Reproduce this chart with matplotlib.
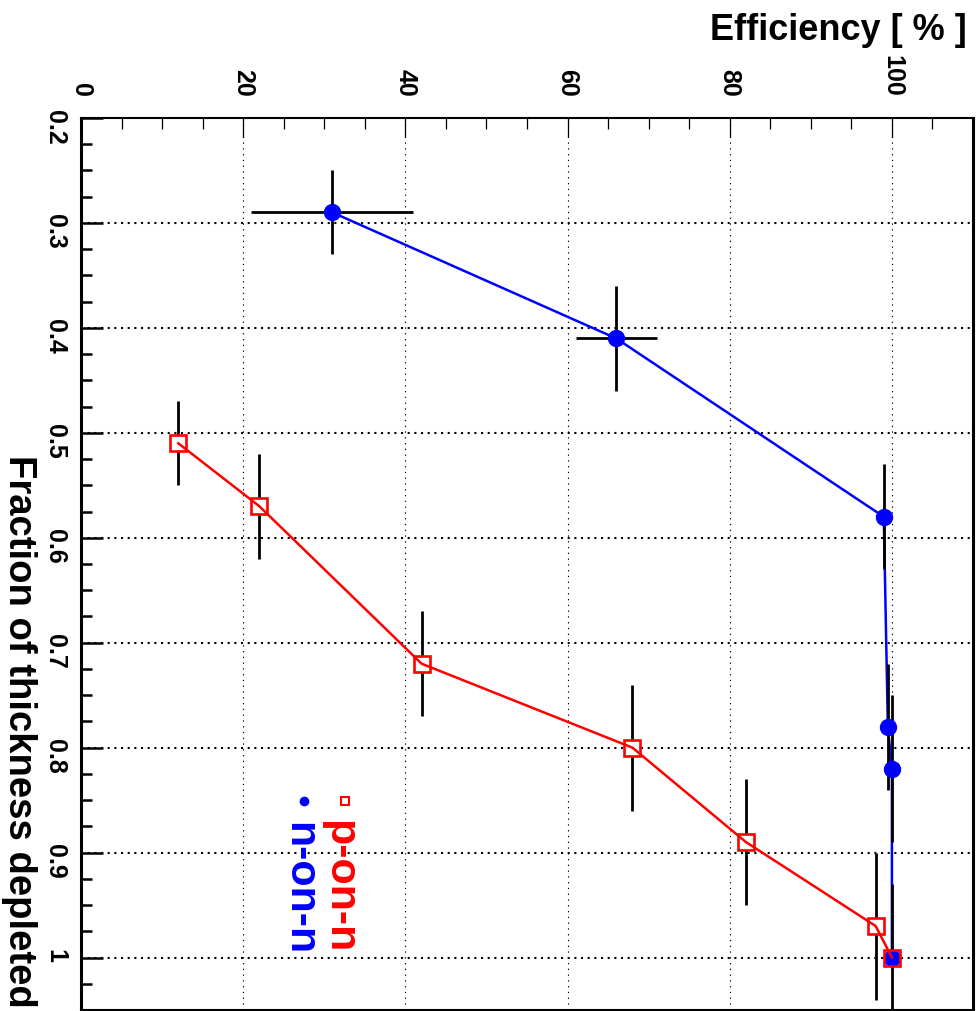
import numpy as np
import matplotlib
matplotlib.use("Agg")
import matplotlib.pyplot as plt
from matplotlib.ticker import MultipleLocator, FuncFormatter

plt.rcParams['font.family'] = ['Liberation Sans', 'DejaVu Sans']
plt.rcParams['font.weight'] = 'bold'

# n-on-n (blue, filled circles)
nn_frac = [0.29, 0.41, 0.58, 0.78, 0.82, 1.00]
nn_eff = [31, 66, 99, 99.5, 100, 100]
nn_frac_err = [0.04, 0.05, 0.05, 0.06, 0.07, 0.07]
nn_eff_err = [10, 5, 0, 0, 0, 0]

# p-on-n (red, open squares)
pn_frac = [0.51, 0.57, 0.72, 0.80, 0.89, 0.97, 1.00]
pn_eff = [12, 22, 42, 68, 82, 98, 100]
pn_frac_err = [0.04, 0.05, 0.05, 0.06, 0.06, 0.07, 0.0]

fig = plt.figure(figsize=(9.79, 10.12), dpi=100)
W, H = 979, 1012
ax = fig.add_axes([81 / W, (H - 1011) / H, 892 / W, 892 / H])

ax.set_xlim(0, 110)
ax.set_ylim(1.05, 0.2)

# grid
for v in [20, 40, 60, 80, 100]:
    ax.axvline(v, color='black', lw=0.8, linestyle=(0, (1.2, 4)), zorder=1)
for v in [0.3, 0.4, 0.5, 0.6, 0.7, 0.8, 0.9, 1.0]:
    ax.axhline(v, color='black', lw=1.5, linestyle=(0, (1, 2.2)), zorder=1)

# curves
ax.plot(nn_eff, nn_frac, '-', color='blue', lw=1.8, zorder=2)
ax.errorbar(nn_eff, nn_frac, xerr=nn_eff_err, yerr=nn_frac_err, fmt='none',
            ecolor='black', elinewidth=2, capsize=0, zorder=3)
ax.errorbar(pn_eff, pn_frac, yerr=pn_frac_err, fmt='none',
            ecolor='black', elinewidth=2, capsize=0, zorder=3)
ax.plot(pn_eff, pn_frac, 's', ms=11.5, mfc='white', mec='none', zorder=3.5)
ax.plot(nn_eff, nn_frac, 'o', ms=11.5, color='blue', zorder=3.8)
ax.plot(pn_eff, pn_frac, '-', color='red', lw=1.8, zorder=4)
ax.plot(pn_eff, pn_frac, 's', ms=11.5, mfc='none', mec='red', mew=1.9, zorder=5)

# axes / ticks
ax.xaxis.set_ticks_position('top')
ax.yaxis.set_ticks_position('left')
ax.xaxis.set_major_locator(MultipleLocator(20))
ax.xaxis.set_minor_locator(MultipleLocator(5))
ax.yaxis.set_major_locator(MultipleLocator(0.1))
ax.yaxis.set_minor_locator(MultipleLocator(0.025))
ax.xaxis.set_major_formatter(FuncFormatter(lambda v, p: f"{v:g}"))
ax.yaxis.set_major_formatter(FuncFormatter(lambda v, p: f"{round(v, 2):g}"))
ax.tick_params(axis='x', which='major', direction='in', length=14, width=0.9,
               labelsize=18, pad=16, labelrotation=270)
ax.tick_params(axis='x', which='minor', direction='in', length=8, width=0.9)
ax.tick_params(axis='y', which='major', direction='in', length=16, width=1.8,
               labelsize=18, pad=10, labelrotation=270)
ax.tick_params(axis='y', which='minor', direction='in', length=8, width=1.8)
for lab in ax.get_xticklabels() + ax.get_yticklabels():
    lab.set_fontweight('bold')

ax.spines['left'].set_linewidth(2.2)
ax.spines['right'].set_linewidth(2.2)
ax.spines['top'].set_linewidth(1.5)
ax.spines['bottom'].set_linewidth(1.5)

# titles
fig.text(967 / W, 1 - 40 / H, 'Efficiency [ % ]', ha='right', va='baseline',
         fontsize=26, fontweight='bold')
fig.text(19 / W, 1 - 1008 / H, 'Fraction of thickness depleted', rotation=270,
         ha='center', va='bottom', fontsize=27.5, fontweight='bold')

# legend (text baseline on the left side after rotation)
fig.text(328 / W, 1 - 820 / H, 'p-on-n', rotation=270, rotation_mode='anchor',
         ha='left', va='baseline', fontsize=31, fontweight='bold', color='red')
fig.text(288 / W, 1 - 822 / H, 'n-on-n', rotation=270, rotation_mode='anchor',
         ha='left', va='baseline', fontsize=31, fontweight='bold', color='blue')
fig.add_artist(plt.Line2D([345 / W], [1 - 802 / H], marker='s', ms=5.5, mfc='none',
                          mec='red', mew=1.5, transform=fig.transFigure))
fig.add_artist(plt.Line2D([304 / W], [1 - 802 / H], marker='o', ms=6, color='blue',
                          transform=fig.transFigure))

fig.savefig('out.png', dpi=100)
